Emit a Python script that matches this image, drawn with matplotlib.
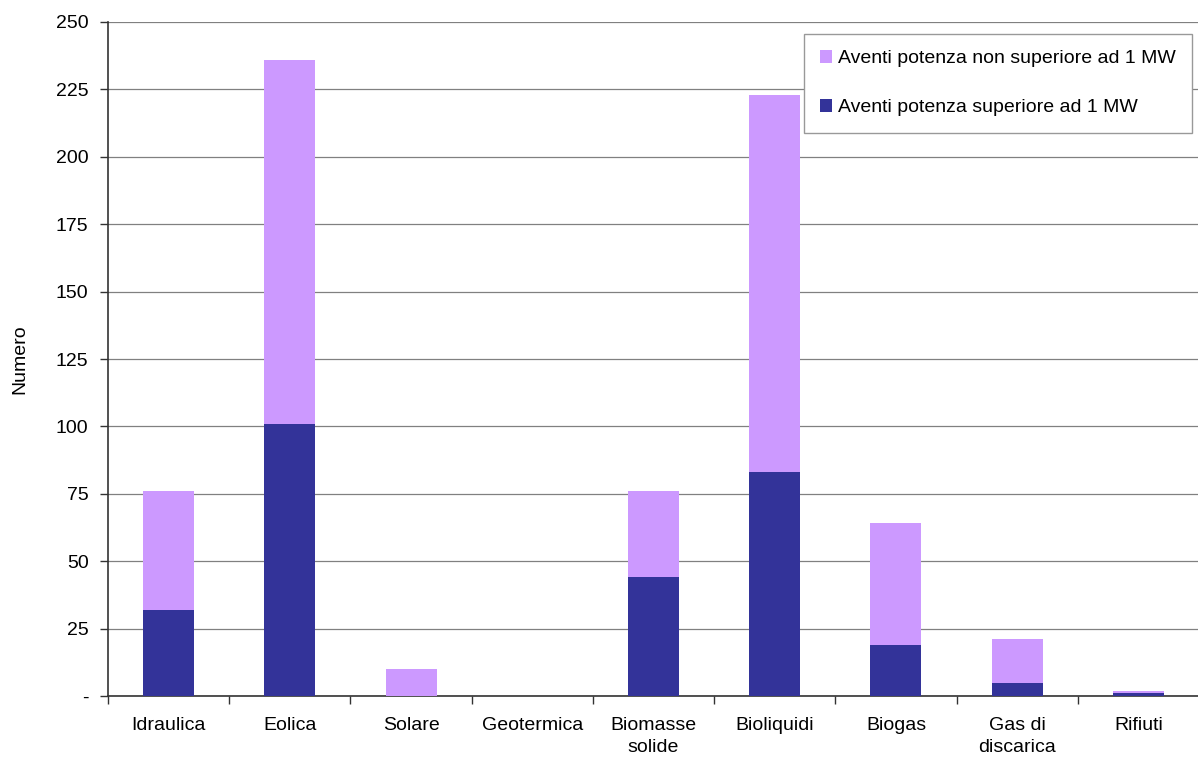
import matplotlib
matplotlib.use("Agg")
import matplotlib.pyplot as plt
import numpy as np

categories = ["Idraulica", "Eolica", "Solare", "Geotermica", "Biomasse\nsolide",
              "Bioliquidi", "Biogas", "Gas di\ndiscarica", "Rifiuti"]
above_1mw = [32, 101, 0, 0, 44, 83, 19, 5, 1]
upto_1mw_total = [76, 236, 10, 0, 76, 223, 64, 21, 2]
upto_1mw = [t - a for t, a in zip(upto_1mw_total, above_1mw)]
yticks = [0, 25, 50, 75, 100, 125, 150, 175, 200, 225, 250]
yticklabels = ["-", "25", "50", "75", "100", "125", "150", "175", "200", "225", "250"]

plt.rcParams['font.family'] = ['Liberation Sans', 'DejaVu Sans']

fig = plt.figure(figsize=(11.98, 7.61), dpi=100)
ax = fig.add_axes([108/1198, 65/761, (1199-108)/1198, (696-22)/761])

x = np.arange(len(categories))
w = 0.42
dark = "#333399"
light = "#CC99FF"
ax.bar(x, above_1mw, w, color=dark, label="Aventi potenza superiore ad 1 MW", zorder=3)
ax.bar(x, upto_1mw, w, bottom=above_1mw, color=light,
       label="Aventi potenza non superiore ad 1 MW", zorder=3)

ax.set_xlim(-0.5, len(categories) - 0.5)
ax.set_ylim(0, 250)
ax.set_yticks(yticks)
ax.set_yticklabels(yticklabels, fontsize=14)
ax.yaxis.grid(True, color="#808080", linewidth=0.9, zorder=0)
ax.set_axisbelow(True)

ax.set_xticks(x)
ax.set_xticklabels(categories, fontsize=14, linespacing=1.4)
ax.set_xticks(np.arange(len(categories)) - 0.5, minor=True)
ax.tick_params(axis='x', which='major', length=0, pad=15)
ax.tick_params(axis='x', which='minor', length=6, width=1, color="#333333")
ax.tick_params(axis='y', length=6, width=1, color="#333333", pad=8)

for s in ["top", "right"]:
    ax.spines[s].set_visible(False)
for s in ["left", "bottom"]:
    ax.spines[s].set_color("#333333")
    ax.spines[s].set_linewidth(1.2)

ax.set_ylabel("Numero", fontsize=14, labelpad=20)

handles, labels = ax.get_legend_handles_labels()
leg = ax.legend(handles[::-1], labels[::-1], loc="upper right",
                bbox_to_anchor=(0.9935, 0.9825), fontsize=14,
                handlelength=0.6, handleheight=0.6, handletextpad=0.3,
                labelspacing=1.65, borderpad=0.85, borderaxespad=0,
                fancybox=False, framealpha=1, edgecolor="#999999")
leg.get_frame().set_linewidth(1.0)

fig.savefig("out.png", dpi=100)
